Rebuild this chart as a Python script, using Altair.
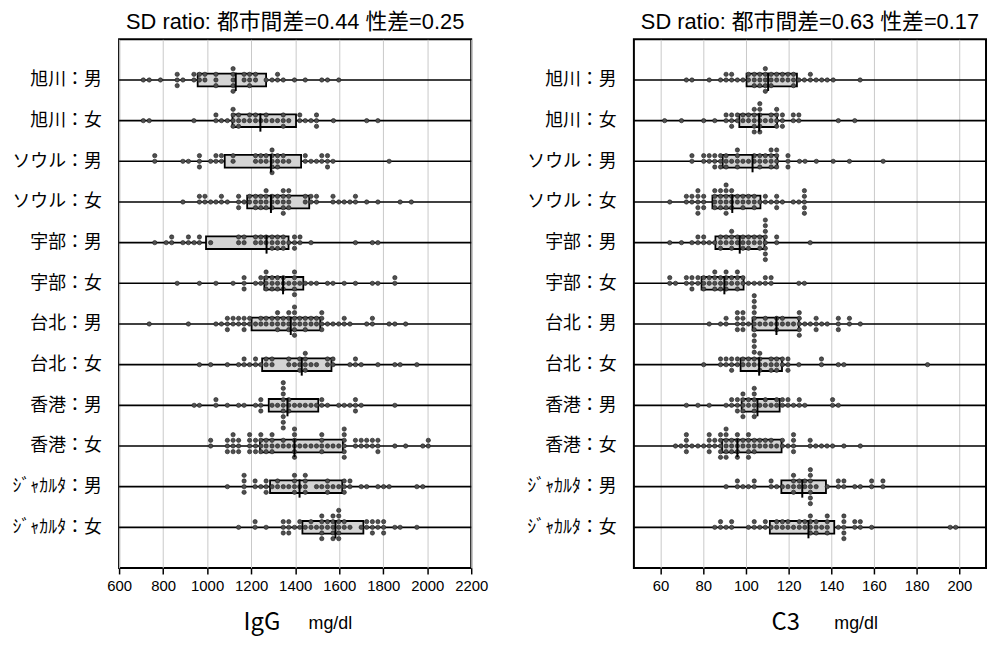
import json
import altair as alt
import pandas as pd

# ---------------- data ----------------
row_labels = ["旭川：男", "旭川：女", "ソウル：男", "ソウル：女", "宇部：男", "宇部：女",
              "台北：男", "台北：女", "香港：男", "香港：女", "ｼﾞｬｶﾙﾀ：男", "ｼﾞｬｶﾙﾀ：女"]

igg_ticks = [600, 800, 1000, 1200, 1400, 1600, 1800, 2000, 2200]
c3_ticks = [60, 80, 100, 120, 140, 160, 180, 200]

igg_q1 = [957, 1115, 1080, 1182, 995, 1260, 1202, 1250, 1280, 1240, 1286, 1433]
igg_med = [1130, 1242, 1290, 1290, 1270, 1345, 1380, 1430, 1365, 1397, 1420, 1583]
igg_q3 = [1268, 1404, 1427, 1464, 1370, 1437, 1514, 1565, 1505, 1617, 1614, 1710]

c3_q1 = [100.3, 96.9, 89.1, 84.3, 85.7, 79.2, 103.1, 97.5, 98.0, 88.8, 116.6, 111.2]
c3_med = [110.4, 106.2, 103.1, 93.6, 97.1, 89.9, 114.3, 106.2, 105.4, 96.0, 126.4, 129.3]
c3_q3 = [123.9, 114.6, 114.7, 106.8, 108.7, 98.9, 124.8, 116.9, 115.8, 116.7, 137.5, 141.4]

igg_asahikawa_m = [710, 737, 788, 864, 864, 864, 890, 940, 940, 965, 965, 990, 990, 1040, 1040, 1040,
                   1118, 1118, 1118, 1118, 1118, 1168, 1168, 1193, 1193, 1193, 1220, 1220, 1268, 1295,
                   1320, 1320, 1346, 1397, 1446, 1521, 1547, 1598]
igg_asahikawa_f = [710, 737, 940, 1040, 1040, 1065, 1092, 1118, 1118, 1118, 1118, 1143, 1143, 1143, 1168,
                   1193, 1193, 1220, 1220, 1244, 1268, 1268, 1295, 1320, 1346, 1346, 1346, 1371, 1421,
                   1421, 1446, 1472, 1497, 1497, 1497, 1574, 1725, 1776]
igg_seoul_m = [762, 762, 890, 915, 965, 965, 965, 1016, 1040, 1040, 1065, 1065, 1118, 1118, 1220, 1220,
               1244, 1244, 1268, 1268, 1295, 1295, 1295, 1295, 1295, 1320, 1320, 1320, 1346, 1346, 1371,
               1446, 1446, 1472, 1497, 1521, 1521, 1547, 1547, 1547, 1572, 1827]
igg_seoul_f = [890, 965, 965, 990, 990, 1016, 1040, 1065, 1065, 1092, 1143, 1143, 1143, 1168, 1193, 1193,
               1220, 1220, 1220, 1244, 1244, 1244, 1268, 1268, 1268, 1268, 1295, 1295, 1295, 1320, 1320,
               1346, 1346, 1346, 1346, 1346, 1371, 1371, 1371, 1371, 1446, 1446, 1472, 1472, 1497, 1497,
               1572, 1572, 1598, 1623, 1649, 1674, 1674, 1725, 1776, 1877, 1928]
igg_ube_m = [762, 814, 839, 839, 890, 915, 915, 941, 965, 965, 1016, 1143, 1143, 1168, 1168, 1220, 1220,
             1244, 1244, 1268, 1268, 1295, 1295, 1295, 1320, 1320, 1320, 1346, 1346, 1346, 1371, 1397,
             1397, 1397, 1422, 1422, 1472, 1674, 1751, 1776]
igg_ube_f = [864, 965, 1040, 1118, 1168, 1168, 1168, 1220, 1244, 1244, 1268, 1268, 1268, 1268, 1295, 1295,
             1295, 1320, 1320, 1320, 1346, 1346, 1346, 1371, 1397, 1397, 1397, 1397, 1397, 1421, 1446,
             1472, 1497, 1547, 1572, 1623, 1674, 1751, 1776, 1853, 1853]
igg_taipei_m = [737, 915, 1040, 1065, 1092, 1092, 1092, 1118, 1118, 1143, 1143, 1168, 1168, 1168, 1193,
                1193, 1220, 1244, 1244, 1268, 1268, 1295, 1295, 1320, 1320, 1320, 1320, 1346, 1346, 1371,
                1371, 1371, 1371, 1397, 1397, 1397, 1397, 1397, 1397, 1421, 1421, 1446, 1446, 1446, 1472,
                1472, 1497, 1497, 1521, 1521, 1521, 1521, 1547, 1572, 1598, 1623, 1623, 1649, 1725, 1751,
                1751, 1827, 1853, 1902]
igg_taipei_f = [965, 1016, 1092, 1143, 1168, 1168, 1193, 1220, 1220, 1244, 1268, 1268, 1295, 1295, 1371,
                1371, 1397, 1421, 1421, 1421, 1446, 1446, 1446, 1446, 1472, 1497, 1547, 1547, 1572, 1572,
                1649, 1674, 1674, 1700, 1776, 1853, 1877, 1953]
igg_hongkong_m = [941, 965, 1040, 1040, 1092, 1143, 1168, 1220, 1244, 1244, 1244, 1295, 1320, 1346, 1346,
                  1346, 1346, 1346, 1346, 1346, 1346, 1346, 1371, 1371, 1371, 1397, 1421, 1446, 1472, 1497,
                  1521, 1521, 1547, 1598, 1623, 1649, 1674, 1674, 1674, 1700, 1853]
igg_hongkong_f = [1016, 1016, 1092, 1092, 1092, 1118, 1118, 1118, 1118, 1143, 1143, 1143, 1193, 1193, 1193,
                  1193, 1220, 1220, 1220, 1244, 1244, 1244, 1244, 1268, 1268, 1268, 1295, 1295, 1295, 1295,
                  1320, 1346, 1346, 1371, 1397, 1397, 1397, 1397, 1397, 1397, 1421, 1446, 1472, 1497, 1521,
                  1521, 1521, 1521, 1547, 1572, 1598, 1623, 1623, 1623, 1623, 1623, 1623, 1674, 1674, 1700,
                  1700, 1725, 1725, 1751, 1751, 1776, 1776, 1776, 1853, 1902, 1980, 2005, 2005]
igg_jakarta_m = [1092, 1168, 1168, 1168, 1168, 1218, 1218, 1244, 1268, 1268, 1268, 1295, 1320, 1320, 1346,
                 1371, 1397, 1397, 1397, 1397, 1421, 1446, 1446, 1446, 1446, 1497, 1521, 1547, 1547, 1547,
                 1572, 1598, 1623, 1623, 1623, 1649, 1649, 1700, 1725, 1776, 1802, 1827, 1953, 1980]
igg_jakarta_f = [1143, 1218, 1218, 1268, 1346, 1346, 1346, 1371, 1371, 1371, 1397, 1421, 1421, 1446, 1472,
                 1472, 1497, 1521, 1521, 1521, 1521, 1521, 1547, 1547, 1572, 1572, 1572, 1572, 1572, 1598,
                 1598, 1598, 1598, 1598, 1598, 1623, 1623, 1649, 1700, 1725, 1725, 1751, 1751, 1751, 1776,
                 1776, 1802, 1802, 1802, 1853, 1877, 1953]

c3_asahikawa_m = [72.1, 74.7, 82.8, 88.1, 90.7, 90.7, 93.3, 93.3, 96.0, 98.6, 101.2, 101.2, 103.9, 103.9,
                  103.9, 106.5, 106.5, 106.5, 109.1, 109.1, 109.1, 109.1, 109.1, 111.8, 111.8, 111.8, 114.4,
                  114.4, 117.1, 117.1, 119.7, 119.7, 122.3, 122.3, 122.3, 124.8, 127.4, 130.2, 130.2, 132.9,
                  135.5, 138.1, 140.9, 153.5]
c3_asahikawa_f = [61.9, 69.8, 80.2, 85.4, 90.7, 90.7, 93.3, 93.3, 93.3, 96.0, 96.0, 98.6, 98.6, 101.2,
                  101.2, 103.9, 103.9, 103.9, 103.9, 103.9, 106.5, 106.5, 106.5, 106.5, 106.5, 106.5, 109.1,
                  111.8, 111.8, 114.4, 114.4, 114.4, 114.4, 117.1, 117.1, 117.1, 122.2, 122.2, 124.8, 124.8,
                  143.3, 151.0]
c3_seoul_m = [74.7, 74.7, 80.2, 80.2, 82.8, 82.8, 85.4, 85.4, 85.4, 88.1, 88.1, 88.1, 90.7, 90.7, 90.7,
              93.3, 96.0, 96.0, 96.0, 96.0, 98.6, 101.2, 103.9, 103.9, 106.5, 106.5, 106.5, 109.1, 109.1,
              111.8, 111.8, 111.8, 111.8, 114.4, 114.4, 114.4, 114.4, 119.7, 119.7, 119.7, 125.1, 127.7,
              133.0, 140.9, 148.5, 164.3]
c3_seoul_f = [64.3, 72.1, 72.1, 74.7, 74.7, 77.5, 77.5, 77.5, 77.5, 77.5, 80.2, 80.2, 80.2, 85.4, 85.4,
              85.4, 85.4, 88.1, 88.1, 88.1, 88.1, 90.7, 90.7, 90.7, 90.7, 90.7, 90.7, 93.3, 93.3, 93.3, 93.3,
              96.0, 96.0, 98.6, 98.6, 98.6, 101.2, 101.2, 103.9, 103.9, 103.9, 106.5, 109.1, 109.1, 111.8,
              114.4, 114.4, 114.4, 117.1, 122.2, 124.8, 127.4, 127.4, 127.4, 127.4, 127.4]
c3_ube_m = [64.3, 69.8, 74.7, 77.5, 77.5, 80.2, 80.2, 82.8, 85.4, 88.1, 88.1, 88.1, 90.7, 90.7, 93.3, 93.3,
            93.3, 93.3, 96.0, 96.0, 98.6, 98.6, 98.6, 101.2, 101.2, 101.2, 103.9, 103.9, 106.5, 106.5, 106.5,
            109.1, 109.1, 109.1, 109.1, 109.1, 109.1, 109.1, 109.1, 114.4, 114.4, 130.1]
c3_ube_f = [64.3, 64.3, 67.0, 72.1, 72.1, 74.7, 74.7, 74.7, 77.5, 77.5, 80.2, 80.2, 80.2, 82.8, 82.8, 85.4,
            85.4, 85.4, 85.4, 88.1, 88.1, 88.1, 90.7, 90.7, 90.7, 90.7, 93.3, 93.3, 96.0, 96.0, 96.0, 96.0,
            98.6, 98.6, 101.2, 103.9, 106.5, 109.1, 109.1, 111.8, 111.8, 124.8, 127.4]
c3_taipei_m = [82.8, 88.1, 90.7, 90.7, 96.0, 96.0, 96.0, 96.0, 98.6, 98.6, 98.6, 98.6, 101.2, 103.9, 103.9,
               103.9, 103.9, 103.9, 103.9, 103.9, 103.9, 103.9, 103.9, 103.9, 106.5, 109.1, 109.1, 111.8,
               114.4, 114.4, 114.4, 117.1, 117.1, 119.7, 122.3, 125.0, 125.0, 125.0, 125.0, 125.0, 127.6,
               130.2, 132.9, 132.9, 132.9, 135.5, 138.1, 143.3, 143.3, 143.3, 148.5, 148.5, 153.6]
c3_taipei_f = [80.2, 88.1, 88.1, 90.7, 90.7, 93.3, 93.3, 93.3, 96.0, 96.0, 98.6, 98.6, 101.2, 101.2, 103.9,
               103.9, 106.5, 106.5, 106.5, 106.5, 109.1, 111.8, 111.8, 111.8, 114.4, 114.4, 114.4, 117.1,
               117.1, 119.7, 119.7, 119.7, 124.8, 135.4, 135.4, 143.3, 145.9, 185.1]
c3_hongkong_m = [72.1, 77.5, 82.8, 90.7, 93.3, 93.3, 96.0, 96.0, 96.0, 98.6, 98.6, 98.6, 98.6, 98.6, 101.2,
                 101.2, 103.9, 103.9, 103.9, 103.9, 103.9, 103.9, 106.5, 109.1, 109.1, 111.8, 114.4, 114.4,
                 117.1, 117.1, 119.7, 119.7, 122.3, 125.0, 125.0, 127.6, 140.6, 140.6, 143.3]
c3_hongkong_f = [67.0, 69.6, 72.1, 72.1, 72.1, 72.1, 74.7, 77.5, 80.2, 82.8, 82.8, 82.8, 82.8, 85.4, 85.4,
                 88.1, 88.1, 88.1, 88.1, 88.1, 90.7, 90.7, 90.7, 90.7, 90.7, 90.7, 93.3, 93.3, 93.3, 96.0,
                 96.0, 96.0, 96.0, 96.0, 98.6, 98.6, 101.2, 101.2, 101.2, 101.2, 101.2, 103.9, 103.9, 103.9,
                 106.5, 106.5, 109.1, 109.1, 111.8, 111.8, 114.4, 117.1, 117.1, 119.7, 122.3, 122.3, 122.3,
                 122.3, 130.1, 130.1, 132.7, 135.4, 138.0, 140.6, 145.9, 153.6]
c3_jakarta_m = [90.7, 96.0, 96.0, 98.6, 101.2, 103.9, 103.9, 111.8, 111.8, 114.4, 117.1, 119.7, 122.3, 122.3,
                122.3, 122.3, 125.0, 125.0, 127.6, 127.6, 130.2, 130.2, 130.2, 130.2, 130.2, 130.2, 130.2,
                132.9, 138.1, 143.3, 143.3, 145.9, 145.9, 151.0, 153.6, 158.9, 158.9, 164.2, 164.2]
c3_jakarta_f = [85.4, 88.1, 88.1, 90.7, 93.3, 93.3, 101.2, 103.9, 103.9, 106.5, 109.1, 109.1, 111.8, 114.4,
                114.4, 117.1, 117.1, 119.7, 119.7, 122.3, 125.0, 125.0, 127.6, 127.6, 130.2, 130.2, 130.2,
                130.2, 132.9, 132.9, 132.9, 135.5, 138.1, 138.1, 138.1, 138.1, 143.3, 145.9, 145.9, 145.9,
                145.9, 145.9, 151.0, 151.0, 153.6, 153.6, 158.9, 195.7, 198.3]

igg_rows = [igg_asahikawa_m, igg_asahikawa_f, igg_seoul_m, igg_seoul_f, igg_ube_m, igg_ube_f,
            igg_taipei_m, igg_taipei_f, igg_hongkong_m, igg_hongkong_f, igg_jakarta_m, igg_jakarta_f]
c3_rows = [c3_asahikawa_m, c3_asahikawa_f, c3_seoul_m, c3_seoul_f, c3_ube_m, c3_ube_f,
           c3_taipei_m, c3_taipei_f, c3_hongkong_m, c3_hongkong_f, c3_jakarta_m, c3_jakarta_f]

# ---------------- layout constants ----------------
W, H = 355, 533
DOT_STEP = 0.139          # vertical spacing of stacked dots (row units)
BOX_HALF = 0.156
MED_TOP, MED_BOT = 0.18, 0.27
LATIN = "Liberation Sans, Arial, sans-serif"
CJK = "Noto Sans CJK JP, sans-serif"
TITLE_FONT = "Liberation Sans, Noto Sans CJK JP, sans-serif"


def dot_frame(rows):
    recs = []
    for i, vals in enumerate(rows, start=1):
        seen = {}
        for v in vals:
            k = seen.get(v, 0)
            seen[v] = k + 1
            lvl = (k + 1) // 2
            sign = -1 if k % 2 == 1 else 1
            off = 0 if k == 0 else sign * lvl
            recs.append({"row": i, "value": v, "y": i + off * DOT_STEP})
    return pd.DataFrame(recs)


def box_frame(q1, med, q3):
    rows = list(range(1, 13))
    return pd.DataFrame({
        "row": rows, "q1": q1, "med": med, "q3": q3,
        "ytop": [r - BOX_HALF for r in rows], "ybot": [r + BOX_HALF for r in rows],
        "mtop": [r - MED_TOP for r in rows], "mbot": [r + MED_BOT for r in rows],
    })


label_expr = json.dumps(row_labels, ensure_ascii=False) + "[datum.value - 1]"


def panel(rows, q1, med, q3, domain, ticks, title, name, name_x, unit_x):
    ysc = alt.Scale(domain=[0, 13], reverse=True, nice=False, zero=False)
    xsc = alt.Scale(domain=domain, nice=False, zero=False)
    yax = alt.Axis(values=list(range(1, 13)), labelExpr=label_expr, grid=False, ticks=False,
                   tickSize=0, domain=False, title=None, labelFont=CJK, labelFontSize=18,
                   labelPadding=18, labelColor="black")
    xax = alt.Axis(values=ticks, format="d", grid=True, gridColor="#c8c8c8", gridWidth=1,
                   domain=False, ticks=True, tickSize=6, tickWidth=1.5, tickColor="black",
                   labelFont=LATIN, labelFontSize=15, labelColor="black", labelPadding=5,
                   labelFlush=False, title=None)

    bdf = box_frame(q1, med, q3)
    ddf = dot_frame(rows)

    lines = alt.Chart(bdf).mark_rule(color="black", strokeWidth=1.6).encode(
        y=alt.Y("row:Q", scale=ysc, axis=yax))
    box = alt.Chart(bdf).mark_rect(fill="#d4d4d4", stroke="black", strokeWidth=1.8).encode(
        x=alt.X("q1:Q", scale=xsc, axis=xax), x2="q3:Q",
        y=alt.Y("ytop:Q", scale=ysc, axis=yax), y2="ybot:Q")
    dots = alt.Chart(ddf).mark_circle(size=19, color="#505050", opacity=1, stroke="#1a1a1a",
                                      strokeWidth=0.6).encode(
        x=alt.X("value:Q", scale=xsc, axis=xax),
        y=alt.Y("y:Q", scale=ysc, axis=yax))
    median = alt.Chart(bdf).mark_rule(color="black", strokeWidth=2).encode(
        x=alt.X("med:Q", scale=xsc, axis=xax),
        y=alt.Y("mtop:Q", scale=ysc, axis=yax), y2="mbot:Q")
    t_name = alt.Chart(pd.DataFrame({"t": [name]})).mark_text(
        font=CJK, fontSize=24, baseline="alphabetic", align="center", color="black").encode(
        text="t:N", x=alt.value(name_x), y=alt.value(H + 63))
    t_unit = alt.Chart(pd.DataFrame({"t": ["mg/dl"]})).mark_text(
        font=LATIN, fontSize=18, baseline="alphabetic", align="center", color="black").encode(
        text="t:N", x=alt.value(unit_x), y=alt.value(H + 61))

    return alt.layer(lines, box, dots, median, t_name, t_unit).properties(
        width=W, height=H,
        title=alt.TitleParams(title, font=TITLE_FONT, fontSize=22, fontWeight="normal",
                              color="black", anchor="middle", offset=5))


left = panel(igg_rows, igg_q1, igg_med, igg_q3, [600, 2200], igg_ticks,
             "SD ratio: 都市間差=0.44 性差=0.25", "IgG", 144, 213)
right = panel(c3_rows, c3_q1, c3_med, c3_q3, [47.5, 212.5], c3_ticks,
              "SD ratio: 都市間差=0.63  性差=0.17", "C3", 153, 224)

chart = alt.hconcat(left, right, spacing=164, bounds="flush").properties(
    padding={"left": 3, "top": 0, "right": 0, "bottom": 0},
    background="white",
).configure_view(stroke="black", strokeWidth=2)

chart.save("out.html", embed_options={"renderer": "svg", "actions": False})
